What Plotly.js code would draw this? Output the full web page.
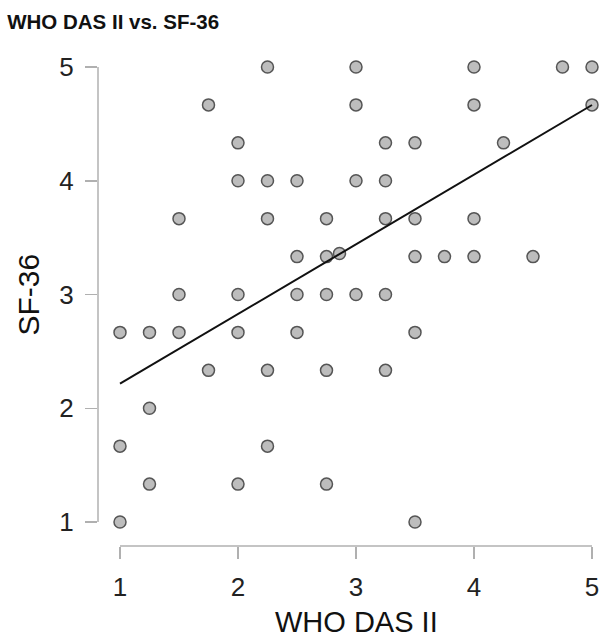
<!DOCTYPE html>
<html>
<head>
<meta charset="utf-8">
<script src="https://cdn.plot.ly/plotly-3.0.1.min.js"></script>
<style>html,body{margin:0;padding:0;background:#fff;}#chart{width:600px;height:640px;}</style>
</head>
<body>
<div id="chart"></div>
<script>
// WHO DAS II scores
var whoDas = [
  2.25, 3, 4, 4.75, 5,
  1.75, 3, 4, 5,
  2, 3.25, 3.5, 4.25,
  2, 2.25, 2.5, 3, 3.25,
  1.5, 2.25, 2.75, 3.25, 3.5, 4,
  2.5, 2.75, 2.86, 3.5, 3.75, 4, 4.5,
  1.5, 2, 2.5, 2.75, 3, 3.25,
  1, 1.25, 1.5, 2, 2.5, 3.5,
  1.75, 2.25, 2.75, 3.25,
  1.25,
  1, 2.25,
  1.25, 2, 2.75,
  1, 3.5
];
// SF-36 scores
var sf36 = [
  5, 5, 5, 5, 5,
  4.667, 4.667, 4.667, 4.667,
  4.333, 4.333, 4.333, 4.333,
  4, 4, 4, 4, 4,
  3.667, 3.667, 3.667, 3.667, 3.667, 3.667,
  3.333, 3.333, 3.36, 3.333, 3.333, 3.333, 3.333,
  3, 3, 3, 3, 3, 3,
  2.667, 2.667, 2.667, 2.667, 2.667, 2.667,
  2.333, 2.333, 2.333, 2.333,
  2,
  1.667, 1.667,
  1.333, 1.333, 1.333,
  1, 1
];
// fitted regression line end points
var fitX = [1, 5];
var fitY = [2.216, 4.666];
var tickVals = [1, 2, 3, 4, 5];
var tickText = ['1', '2', '3', '4', '5'];

var axisCol = '#b0b0b0';
var font = 'Liberation Sans, Arial, sans-serif';

var traces = [
  {
    x: whoDas, y: sf36, type: 'scatter', mode: 'markers', cliponaxis: false,
    marker: {size: 12, color: '#bdbdbd', line: {color: '#555555', width: 1.5}},
    hoverinfo: 'x+y', showlegend: false
  },
  {
    x: fitX, y: fitY, type: 'scatter', mode: 'lines', cliponaxis: false,
    line: {color: '#111111', width: 2}, showlegend: false
  }
];

var layout = {
  width: 600, height: 640,
  margin: {l: 98, r: 0, t: 55, b: 94, pad: 0},
  paper_bgcolor: '#ffffff', plot_bgcolor: '#ffffff',
  font: {family: font, color: '#222222'},
  title: {
    text: '<b>WHO DAS II vs. SF-36</b>',
    font: {family: font, size: 20.5, color: '#111111'},
    xref: 'container', yref: 'container',
    x: 0.012, xanchor: 'left', y: 1 - 22 / 640, yanchor: 'middle'
  },
  xaxis: {
    range: [1 - 22 / 118, 5 + 8 / 118],
    tickvals: tickVals, ticktext: tickText,
    showgrid: false, zeroline: false, showline: false,
    ticks: 'outside', ticklen: 12, tickwidth: 1.5, tickcolor: axisCol,
    ticklabelstandoff: 6,
    tickfont: {family: font, size: 26, color: '#222222'},
    fixedrange: true
  },
  yaxis: {
    range: [1 - 24 / 113.75, 5 + 12 / 113.75],
    tickvals: tickVals, ticktext: tickText,
    showgrid: false, zeroline: false, showline: false,
    ticks: 'outside', ticklen: 12, tickwidth: 1.5, tickcolor: axisCol,
    ticklabelstandoff: 6,
    tickfont: {family: font, size: 26, color: '#222222'},
    fixedrange: true
  },
  shapes: [
    {type: 'line', xref: 'x', yref: 'paper', x0: 1, x1: 5, y0: 0, y1: 0,
     line: {color: axisCol, width: 1.5}},
    {type: 'line', xref: 'paper', yref: 'y', x0: 0, x1: 0, y0: 1, y1: 5,
     line: {color: axisCol, width: 1.5}}
  ],
  annotations: [
    {text: 'WHO DAS II', xref: 'x', yref: 'paper', x: 3, y: -76 / 491,
     xanchor: 'center', yanchor: 'middle', showarrow: false,
     font: {family: font, size: 29, color: '#111111'}},
    {text: 'SF-36', xref: 'paper', yref: 'y', x: -70 / 502, y: 3,
     xanchor: 'center', yanchor: 'middle', textangle: -90, showarrow: false,
     font: {family: font, size: 30, color: '#111111'}}
  ]
};

Plotly.newPlot('chart', traces, layout, {displayModeBar: false, staticPlot: true});
</script>
</body>
</html>
